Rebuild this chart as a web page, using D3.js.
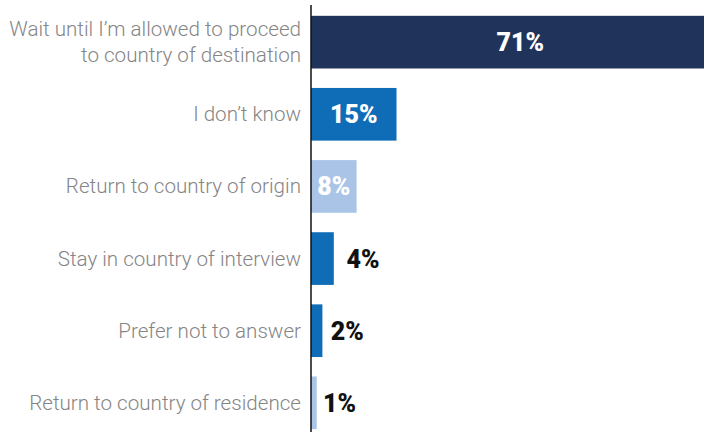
<!DOCTYPE html>
<html><head><meta charset="utf-8">
<script src="https://cdn.jsdelivr.net/npm/d3@7"></script>
<style>html,body{margin:0;padding:0;background:#fff;}svg{display:block;}</style>
</head><body>
<svg id="c" width="704" height="432"></svg>
<script>
const categories = [
  ["Wait until I\u2019m allowed to proceed", "to country of destination"],
  ["I don\u2019t know"],
  ["Return to country of origin"],
  ["Stay in country of interview"],
  ["Prefer not to answer"],
  ["Return to country of residence"]
];
const values = [71, 15, 8, 4, 2, 1];
const colors = ["#20335a", "#0f6cb6", "#a9c4e7", "#0f6cb6", "#0f6cb6", "#a9c4e7"];
const insideLabel = [true, true, true, false, false, false];

const svg = d3.select("#c");
const x0 = 311;
const x = d3.scaleLinear().domain([0, 10]).range([x0, x0 + 57]);
const y = d3.scaleBand().domain(d3.range(values.length)).range([5, 440]).paddingInner(0.27).paddingOuter(0.15);

const idx = d3.range(values.length);

svg.selectAll("rect.bar").data(idx).join("rect")
  .attr("class", "bar")
  .attr("x", x(0))
  .attr("y", i => y(i))
  .attr("width", i => x(values[i]) - x(0))
  .attr("height", y.bandwidth())
  .attr("fill", i => colors[i]);

svg.append("line")
  .attr("x1", x0).attr("x2", x0)
  .attr("y1", 5).attr("y2", 432)
  .attr("stroke", "#111").attr("stroke-width", 1.5);

const lab = svg.selectAll("text.cat").data(idx).join("text")
  .attr("class", "cat")
  .attr("text-anchor", "end")
  .attr("font-family", "Roboto, sans-serif")
  .attr("font-weight", 300)
  .attr("font-size", 20.6)
  .attr("fill", "#858585");
lab.each(function(i) {
  const lines = categories[i];
  const cy = y(i) + y.bandwidth() / 2;
  const lh = 26;
  const start = cy - (lines.length - 1) * lh / 2 + 7;
  d3.select(this).selectAll("tspan").data(lines).join("tspan")
    .attr("x", 301)
    .attr("y", (d, k) => start + k * lh)
    .text(d => d);
});

svg.selectAll("text.val").data(idx).join("text")
  .attr("class", "val")
  .attr("font-family", "Roboto, sans-serif")
  .attr("font-weight", 900)
  .attr("font-size", 25)
  .attr("fill", i => insideLabel[i] ? "#ffffff" : "#111111")
  .attr("text-anchor", i => insideLabel[i] ? "middle" : "start")
  .attr("x", i => insideLabel[i] ? x(values[i] / 2) + (values[i] > 50 ? 7 : 0) : x(values[i]) + 4 + values[i] * 2.2)
  .attr("y", i => y(i) + y.bandwidth() / 2 + 9)
  .text(i => values[i] + "%");
</script>
</body></html>
